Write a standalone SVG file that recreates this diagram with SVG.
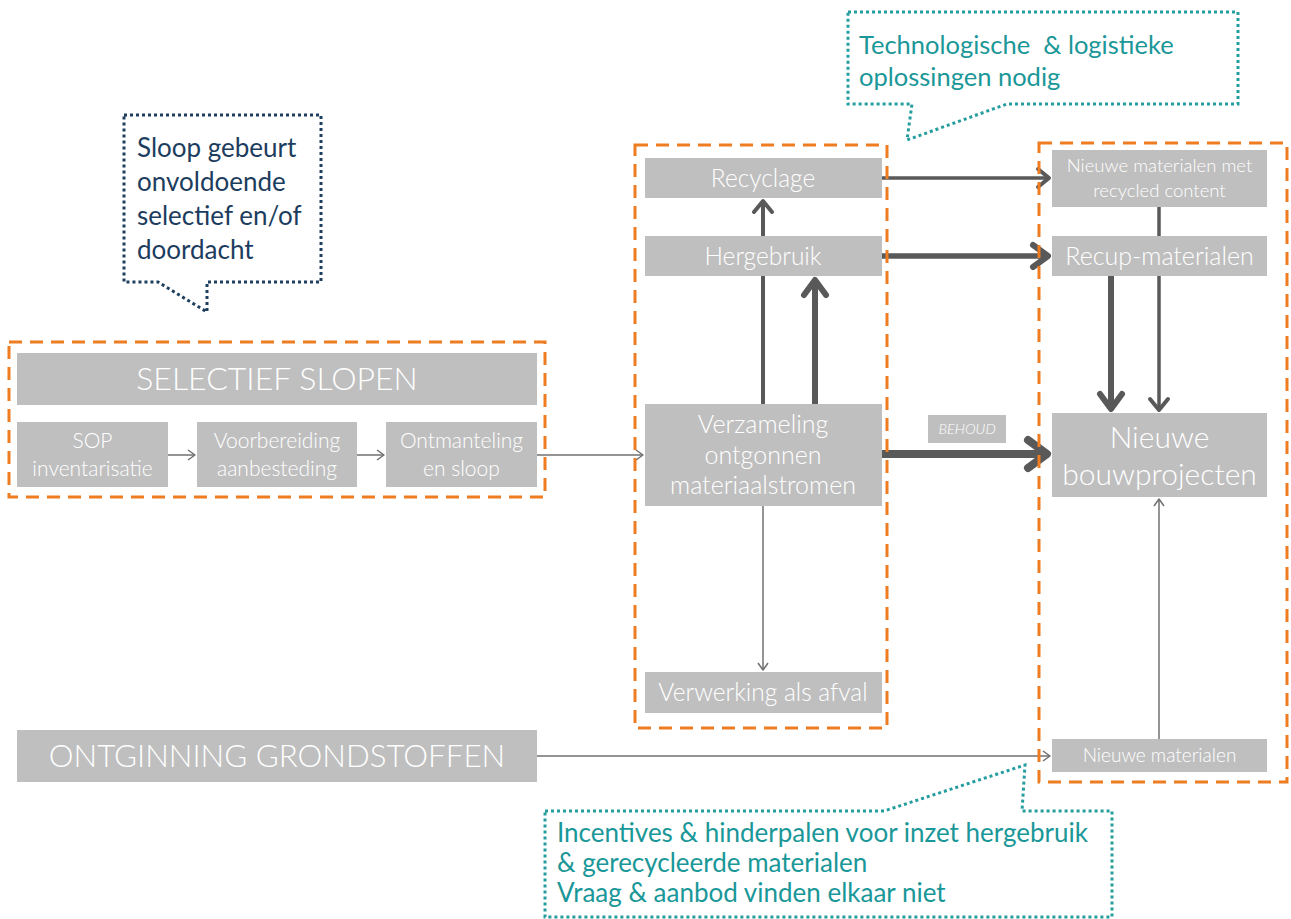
<svg xmlns="http://www.w3.org/2000/svg" width="1291" height="919" viewBox="0 0 1291 919">
<style>
.box{fill:#bfbfbf}
.t{font-family:Lato,"Open Sans","Liberation Sans",sans-serif;font-weight:300;fill:#ffffff;text-anchor:middle}
.grp{fill:none;stroke:#ee7d22;stroke-width:3;stroke-dasharray:13 8}
.bub-n{fill:none;stroke:#1f3f5f;stroke-width:3;stroke-dasharray:3 3}
.bub-t{fill:none;stroke:#259d9e;stroke-width:3;stroke-dasharray:3 3}
.bt{font-family:Lato,"Open Sans","Liberation Sans",sans-serif}
.c{fill:none;stroke:#595959}
.thin{stroke:#707070;stroke-width:1.5}
</style>
<defs>
<marker id="m-thin" markerUnits="userSpaceOnUse" viewBox="-3 -8 12 16" refX="7" refY="0" markerWidth="12" markerHeight="16" orient="auto" style="overflow:visible"><path d="M0,-5 L7,0 L0,5" fill="none" stroke="#707070" stroke-width="1.5" stroke-linejoin="round"/></marker>
<marker id="m-med" markerUnits="userSpaceOnUse" viewBox="-4 -12 20 24" refX="11" refY="0" markerWidth="20" markerHeight="24" orient="auto" style="overflow:visible"><path d="M0,-9 L11,0 L0,9" fill="none" stroke="#595959" stroke-width="4" stroke-linecap="round" stroke-linejoin="round"/></marker>
<marker id="m-big" markerUnits="userSpaceOnUse" viewBox="-5 -16 26 32" refX="15" refY="0" markerWidth="26" markerHeight="32" orient="auto" style="overflow:visible"><path d="M0,-11 L15,0 L0,11" fill="none" stroke="#595959" stroke-width="6" stroke-linecap="round" stroke-linejoin="round"/></marker>
<marker id="m-xl" markerUnits="userSpaceOnUse" viewBox="-6 -20 32 40" refX="19" refY="0" markerWidth="32" markerHeight="40" orient="auto" style="overflow:visible"><path d="M0,-14 L19,0 L0,14" fill="none" stroke="#595959" stroke-width="8" stroke-linecap="round" stroke-linejoin="round"/></marker>
</defs>
<rect width="1291" height="919" fill="#ffffff"/>

<g id="connectors">
<line class="c thin" x1="168" y1="455" x2="195" y2="455" marker-end="url(#m-thin)"/>
<line class="c thin" x1="357" y1="455" x2="384" y2="455" marker-end="url(#m-thin)"/>
<line class="c thin" x1="537" y1="455" x2="643" y2="455" marker-end="url(#m-thin)"/>
<line class="c thin" x1="763" y1="506" x2="763" y2="670" marker-end="url(#m-thin)"/>
<line class="c" stroke-width="4" x1="763" y1="404" x2="763" y2="276"/>
<line class="c" stroke-width="4" x1="763" y1="236" x2="763" y2="201" marker-end="url(#m-med)"/>
<line class="c" stroke-width="6" x1="815" y1="404" x2="815" y2="280" marker-end="url(#m-big)"/>
<line class="c" stroke-width="3.5" x1="882" y1="178" x2="1049" y2="178" marker-end="url(#m-med)"/>
<line class="c" stroke-width="5.5" x1="882" y1="256" x2="1048" y2="256" marker-end="url(#m-big)"/>
<line class="c" stroke-width="8" x1="882" y1="454" x2="1047" y2="454" marker-end="url(#m-xl)"/>
<line class="c" stroke-width="6" x1="1111" y1="276" x2="1111" y2="409" marker-end="url(#m-big)"/>
<line class="c" stroke-width="3.5" x1="1159" y1="207" x2="1159" y2="410" marker-end="url(#m-med)"/>
<line class="c thin" x1="1159" y1="739" x2="1159" y2="499" marker-end="url(#m-thin)"/>
<line class="c thin" x1="537" y1="756" x2="1050" y2="756" marker-end="url(#m-thin)"/>
</g>

<g id="grp-selectief"><rect class="grp" x="9" y="342" width="536" height="155"/></g>
<g id="grp-stromen"><rect class="grp" x="635" y="145" width="252" height="583"/></g>
<g id="grp-nieuw"><rect class="grp" x="1039" y="143" width="248" height="639"/></g>

<g id="selectief-slopen"><rect class="box" x="17" y="353" width="520" height="52"/><text class="t" x="277" y="390" font-size="32">SELECTIEF SLOPEN</text></g>
<g id="sop"><rect class="box" x="17" y="422" width="151" height="65"/><text class="t" x="92.5" y="448" font-size="21">SOP</text><text class="t" x="92.5" y="476" font-size="21">inventarisatie</text></g>
<g id="voorbereiding"><rect class="box" x="197" y="422" width="160" height="65"/><text class="t" x="277" y="448" font-size="21">Voorbereiding</text><text class="t" x="277" y="476" font-size="21">aanbesteding</text></g>
<g id="ontmanteling"><rect class="box" x="386" y="422" width="151" height="65"/><text class="t" x="461.5" y="448" font-size="21">Ontmanteling</text><text class="t" x="461.5" y="476" font-size="21">en sloop</text></g>

<g id="recyclage"><rect class="box" x="645" y="158" width="237" height="40"/><text class="t" x="763" y="187" font-size="24.5">Recyclage</text></g>
<g id="hergebruik"><rect class="box" x="645" y="236" width="237" height="40"/><text class="t" x="763" y="265" font-size="24.5">Hergebruik</text></g>
<g id="verzameling"><rect class="box" x="645" y="404" width="237" height="102"/><text class="t" x="763" y="433" font-size="25">Verzameling</text><text class="t" x="763" y="464" font-size="25">ontgonnen</text><text class="t" x="763" y="494" font-size="25">materiaalstromen</text></g>
<g id="verwerking"><rect class="box" x="645" y="672" width="237" height="41"/><text class="t" x="763" y="701" font-size="24.5">Verwerking als afval</text></g>

<g id="nm-recycled"><rect class="box" x="1052" y="150" width="215" height="57"/><text class="t" x="1159.5" y="172" font-size="18.5">Nieuwe materialen met</text><text class="t" x="1159.5" y="197" font-size="18.5">recycled content</text></g>
<g id="recup"><rect class="box" x="1052" y="236" width="215" height="40"/><text class="t" x="1159.5" y="265" font-size="25">Recup-materialen</text></g>
<g id="bouwprojecten"><rect class="box" x="1052" y="413" width="215" height="84"/><text class="t" x="1159.5" y="448" font-size="30">Nieuwe</text><text class="t" x="1159.5" y="485" font-size="30">bouwprojecten</text></g>
<g id="nieuwe-materialen"><rect class="box" x="1052" y="739" width="215" height="33"/><text class="t" x="1159.5" y="762" font-size="19">Nieuwe materialen</text></g>
<g id="behoud"><rect class="box" x="928" y="415" width="78" height="28"/><text class="t" x="967" y="434" font-size="14.5" font-style="italic">BEHOUD</text></g>

<g id="ontginning"><rect class="box" x="17" y="730" width="520" height="52"/><text class="t" x="277" y="767" font-size="31.3">ONTGINNING GRONDSTOFFEN</text></g>

<g id="bubble-sloop"><path class="bub-n" d="M124,115 H321 V282 H207 V312 L158,282 H124 Z"/>
<g class="bt" font-size="26" fill="#1d3d5e"><text x="137" y="157">Sloop gebeurt</text><text x="137" y="191">onvoldoende</text><text x="137" y="225">selectief en/of</text><text x="137" y="259">doordacht</text></g></g>

<g id="bubble-technologie"><path class="bub-t" d="M848,12 H1238 V104 H1007 L907,140 L912,104 H848 Z"/>
<g class="bt" font-size="25.5" fill="#1a9798"><text x="859" y="54" xml:space="preserve">Technologische  &amp; logistieke</text><text x="859" y="86">oplossingen nodig</text></g></g>

<g id="bubble-incentives"><path class="bub-t" d="M545,811 H884 L1025,765 L1022,811 H1112 V917 H545 Z"/>
<g class="bt" font-size="26" fill="#1a9798"><text x="557" y="842">Incentives &amp; hinderpalen voor inzet hergebruik</text><text x="557" y="872">&amp; gerecycleerde materialen</text><text x="557" y="902">Vraag &amp; aanbod vinden elkaar niet</text></g></g>
</svg>
